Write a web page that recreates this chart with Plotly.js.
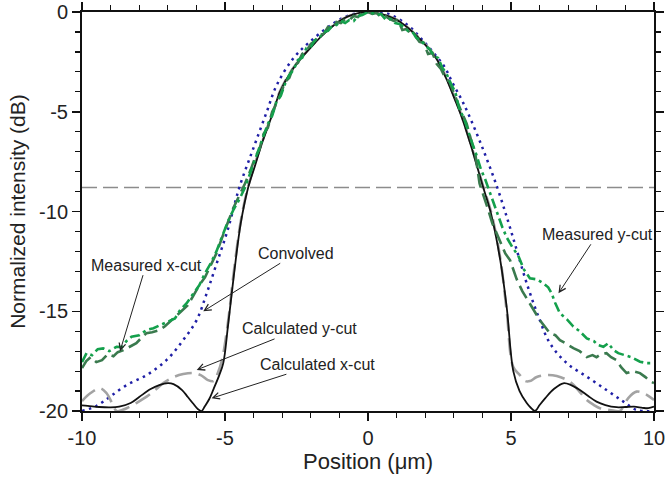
<!DOCTYPE html>
<html>
<head>
<meta charset="utf-8">
<script src="https://cdn.plot.ly/plotly-3.0.1.min.js"></script>
<style>html,body{margin:0;padding:0;background:#fff;}#chart{width:666px;height:478px;}</style>
</head>
<body>
<div id="chart"></div>
<script>
// ---- Data ----
const calcXcutX = [-10,-9.8,-9.4,-9.0,-8.7,-8.3,-8.0,-7.6,-7.3,-7.0,-6.8,-6.5,-6.3,-6.1,-5.95,-5.82,-5.7,-5.55,-5.4,-5.2,-5.06,-4.9,-4.69,-4.45,-4.19,-3.95,-3.7,-3.31,-3.08,-2.61,-2.03,-1.33,-0.7,0,0.7,1.1,1.79,2.38,2.73,3.02,3.25,3.6,4.03,4.3,4.62,4.85,5.08,5.3,5.55,5.7,5.84,6.0,6.2,6.5,6.83,7.1,7.41,7.7,7.99,8.3,8.69,9.0,9.3,9.6,9.8,10];
const calcXcutY = [-19.72,-19.74,-19.8,-19.82,-19.78,-19.6,-19.3,-18.9,-18.7,-18.6,-18.65,-18.95,-19.3,-19.65,-19.9,-20.0,-19.75,-19.4,-18.9,-18.2,-17.6,-15.8,-13.2,-10.6,-8.8,-7.7,-6.55,-5.0,-4.0,-2.82,-1.82,-0.82,-0.22,0,-0.2,-0.48,-1.32,-2.32,-3.32,-4.33,-5.16,-6.7,-8.8,-10.1,-12.4,-14.8,-18.0,-19.0,-19.6,-19.85,-20.0,-19.7,-19.35,-18.9,-18.61,-18.7,-18.95,-19.25,-19.53,-19.7,-19.81,-19.8,-19.78,-19.84,-19.86,-19.78];

const calcYcutX = [-10,-9.7,-9.37,-9.14,-8.95,-8.79,-8.6,-8.44,-8.1,-7.74,-7.4,-7.16,-6.8,-6.46,-6.1,-5.85,-5.6,-5.4,-5.25,-5.1,-4.9,-4.69,-4.45,-4.19,-3.7,-3.31,-3.08,-2.61,-2.03,-1.33,-0.7,0,0.7,1.1,1.79,2.38,2.73,3.02,3.25,3.6,4.03,4.3,4.62,4.85,5.08,5.31,5.5,5.66,5.9,6.25,6.6,7.06,7.35,7.65,7.9,8.11,8.45,8.81,8.95,9.1,9.39,9.7,10];
const calcYcutY = [-19.5,-19.1,-18.86,-19.11,-19.6,-20.0,-19.95,-19.86,-19.6,-19.28,-18.9,-18.6,-18.3,-18.15,-18.1,-18.2,-18.45,-18.5,-18.1,-17.4,-15.6,-13.0,-10.5,-8.75,-6.5,-4.95,-3.97,-2.8,-1.8,-0.8,-0.22,0,-0.2,-0.46,-1.3,-2.28,-3.26,-4.25,-5.1,-6.65,-8.75,-10.0,-12.3,-15.0,-17.8,-18.2,-18.5,-18.5,-18.3,-18.2,-18.25,-18.53,-18.95,-19.45,-19.7,-19.86,-19.95,-20.0,-19.7,-19.35,-19.03,-19.15,-19.45];

const convolvedX = [-10,-9.5,-9.02,-8.44,-7.74,-7.04,-6.46,-5.99,-5.64,-5.29,-4.9,-4.5,-4.0,-3.54,-3.19,-2.61,-2.03,-1.21,-0.63,0,0.63,1.38,1.85,2.26,2.67,2.96,3.25,3.5,4.0,4.52,4.9,5.2,5.55,5.96,6.36,6.95,7.65,8.34,8.93,9.39,10];
const convolvedY = [-20,-19.75,-19.28,-18.7,-18.2,-17.44,-16.44,-15.44,-14.1,-12.6,-10.9,-8.8,-6.8,-5.0,-3.66,-2.32,-1.49,-0.57,-0.15,0,-0.05,-0.65,-1.32,-1.99,-2.74,-3.57,-4.33,-5.08,-6.8,-8.8,-10.5,-11.93,-13.6,-15.27,-16.6,-17.6,-18.28,-18.95,-19.53,-19.95,-20];

const measXcutX = [-10,-9.85,-9.7,-9.5,-9.3,-9.1,-8.9,-8.75,-8.55,-8.3,-8.1,-7.9,-7.75,-7.55,-7.3,-7.1,-6.9,-6.7,-6.5,-6.3,-6.1,-5.9,-5.7,-5.5,-5.3,-5.1,-4.9,-4.7,-4.5,-4.3,-4.1,-3.95,-3.8,-3.65,-3.5,-3.35,-3.2,-3.05,-2.9,-2.75,-2.6,-2.45,-2.3,-2.15,-2.0,-1.85,-1.7,-1.55,-1.4,-1.25,-1.1,-0.95,-0.8,-0.65,-0.5,-0.35,-0.2,0,0.15,0.3,0.45,0.6,0.75,0.9,1.05,1.2,1.35,1.5,1.65,1.8,1.95,2.1,2.25,2.4,2.55,2.7,2.85,3.0,3.15,3.3,3.45,3.6,3.75,3.9,4.05,4.2,4.35,4.5,4.65,4.8,4.97,5.2,5.4,5.66,5.85,6.01,6.2,6.36,6.55,6.71,6.9,7.18,7.4,7.65,7.85,7.99,8.15,8.34,8.5,8.69,8.85,9.04,9.25,9.51,9.7,9.85,10];
const measXcutY = [-17.85,-17.5,-17.3,-17.55,-17.45,-17.15,-17.25,-17.05,-16.95,-16.75,-16.6,-16.3,-16.1,-16.05,-15.95,-15.75,-15.5,-15.25,-15.0,-14.7,-14.2,-13.7,-13.3,-12.7,-12.1,-11.3,-10.5,-9.8,-9.2,-8.6,-7.9,-7.3,-6.9,-6.1,-5.8,-5.0,-4.6,-4.1,-3.5,-3.3,-2.7,-2.55,-2.1,-1.95,-1.6,-1.45,-1.15,-1.1,-0.75,-0.85,-0.5,-0.55,-0.35,-0.4,-0.2,-0.25,-0.05,0,-0.1,-0.05,-0.25,-0.2,-0.35,-0.45,-0.4,-0.9,-0.85,-1.1,-1.2,-1.5,-1.55,-2.1,-2.05,-2.6,-2.85,-3.3,-3.5,-4.1,-4.6,-5.1,-5.6,-6.4,-7.1,-8.6,-9.2,-9.9,-10.6,-11.1,-11.6,-12.1,-12.45,-13.4,-14.0,-14.6,-15.1,-15.45,-15.8,-16.1,-16.2,-16.45,-16.6,-16.85,-17.0,-17.3,-17.2,-17.3,-17.15,-17.1,-17.3,-17.45,-17.8,-18.1,-18.0,-18.1,-18.3,-18.5,-18.6];

const measYcutX = [-10,-9.84,-9.65,-9.45,-9.26,-9.05,-8.79,-8.6,-8.45,-8.27,-8.0,-7.74,-7.5,-7.27,-7.0,-6.75,-6.55,-6.34,-6.15,-5.9,-5.7,-5.5,-5.3,-5.1,-4.9,-4.7,-4.5,-4.3,-4.1,-3.95,-3.8,-3.65,-3.5,-3.35,-3.2,-3.05,-2.9,-2.75,-2.6,-2.45,-2.3,-2.15,-2.0,-1.85,-1.7,-1.55,-1.4,-1.25,-1.1,-0.95,-0.8,-0.65,-0.5,-0.35,-0.2,0,0.15,0.3,0.45,0.63,0.8,0.95,1.1,1.25,1.4,1.55,1.7,1.85,2.0,2.15,2.3,2.45,2.6,2.75,2.9,3.05,3.2,3.35,3.5,3.65,3.8,3.95,4.1,4.25,4.4,4.55,4.7,4.85,5.05,5.25,5.45,5.66,5.9,6.13,6.3,6.42,6.55,6.71,6.95,7.18,7.4,7.65,7.9,8.05,8.23,8.4,8.58,8.75,8.93,9.2,9.51,9.75,10];
const measYcutY = [-17.55,-17.1,-17.2,-16.9,-16.86,-17.0,-16.78,-16.8,-16.5,-16.28,-16.2,-15.94,-15.85,-15.69,-15.5,-15.36,-14.9,-14.6,-14.2,-13.7,-13.1,-12.6,-12.0,-11.2,-10.5,-9.9,-9.4,-8.8,-8.0,-7.4,-6.8,-6.3,-5.6,-5.2,-4.5,-4.2,-3.6,-3.15,-2.9,-2.4,-2.3,-1.8,-1.75,-1.4,-1.3,-1.0,-0.95,-0.7,-0.65,-0.45,-0.55,-0.4,-0.45,-0.2,-0.15,0,-0.05,-0.15,-0.1,-0.4,-0.35,-0.55,-0.6,-0.75,-0.95,-1.0,-1.3,-1.4,-1.7,-1.85,-2.2,-2.3,-2.8,-3.1,-3.6,-4.0,-4.9,-5.3,-6.0,-6.6,-7.2,-7.9,-8.4,-9.0,-9.7,-10.2,-10.8,-11.3,-11.8,-12.2,-12.9,-13.35,-13.4,-13.6,-13.8,-14.1,-14.6,-15.1,-15.4,-15.77,-16.0,-16.36,-16.5,-16.7,-16.78,-16.6,-16.94,-17.1,-17.19,-17.3,-17.53,-17.6,-17.6];

const refLevelX = [-10, 10];
const refLevelY = [-8.8, -8.8];

const xTickVals = [-10, -5, 0, 5, 10];
const xTickText = ['-10', '-5', '0', '5', '10'];
const yTickVals = [-20, -15, -10, -5, 0];
const yTickText = ['-20', '-15', '-10', '-5', '0'];

const labels = {
  measX: 'Measured x-cut',
  conv: 'Convolved',
  calcY: 'Calculated y-cut',
  calcX: 'Calculated x-cut',
  measY: 'Measured y-cut'
};

// ---- Traces ----
const traces = [
  {x: refLevelX, y: refLevelY, mode: 'lines', line: {color: '#8c8c8c', width: 1.5, dash: '15px,6px'}},
  {x: convolvedX, y: convolvedY, mode: 'lines', line: {color: '#1f1fa6', width: 2.5, dash: '2.5px,4.5px', shape: 'spline'}},
  {x: calcYcutX, y: calcYcutY, mode: 'lines', line: {color: '#a3a3a3', width: 2.6, dash: '17px,7px', shape: 'spline'}},
  {x: calcXcutX, y: calcXcutY, mode: 'lines', line: {color: '#111111', width: 1.8, shape: 'spline'}},
  {x: measXcutX, y: measXcutY, mode: 'lines', line: {color: '#3a7a4e', width: 2.6, dash: '14px,6px'}},
  {x: measYcutX, y: measYcutY, mode: 'lines', line: {color: '#14a04c', width: 2.6, dash: '10px,4px,3px,4px'}}
];

const FONT = 'Liberation Sans, Arial, sans-serif';
const annFont = {family: FONT, size: 16, color: '#222'};
function ann(text, hx, hy, ax, ay) {
  return {text: text, x: hx, y: hy, xref: 'x', yref: 'y', ax: ax, ay: ay,
    showarrow: true, arrowhead: 5, arrowsize: 1.3, arrowwidth: 1, arrowcolor: '#222', font: annFont};
}

const axisCommon = {
  showgrid: false, zeroline: false, showline: true, linecolor: '#111', linewidth: 2,
  mirror: 'ticks', ticks: 'outside', ticklen: 8, tickwidth: 1.5, tickcolor: '#111',
  tickmode: 'array',
  tickfont: {family: FONT, size: 20, color: '#222'},
  minor: {tickmode: 'linear', tick0: 0, dtick: 1, ticks: 'outside', ticklen: 5, tickwidth: 1.2, tickcolor: '#111'}
};

const layout = {
  width: 666, height: 478,
  margin: {l: 82, r: 12, t: 12, b: 67},
  paper_bgcolor: '#fff', plot_bgcolor: '#fff',
  showlegend: false,
  xaxis: Object.assign({}, axisCommon, {
    range: [-10, 10], tickvals: xTickVals, ticktext: xTickText,
    title: {text: 'Position (\u03bcm)', font: {family: FONT, size: 22, color: '#222'}, standoff: 4}
  }),
  yaxis: Object.assign({}, axisCommon, {
    range: [-20, 0], tickvals: yTickVals, ticktext: yTickText,
    title: {text: 'Normalized intensity (dB)', font: {family: FONT, size: 21, color: '#222'}, standoff: 8}
  }),
  annotations: [
    ann(labels.measX, -8.67, -17.0, 26, -86),
    ann(labels.conv, -5.76, -15.0, 93, -58),
    ann(labels.calcY, -5.99, -17.94, 103, -41),
    ann(labels.calcX, -5.47, -19.36, 106, -34),
    ann(labels.measY, 6.66, -14.1, 39, -59)
  ]
};

Plotly.newPlot('chart', traces, layout, {displayModeBar: false, staticPlot: true});
</script>
</body>
</html>
